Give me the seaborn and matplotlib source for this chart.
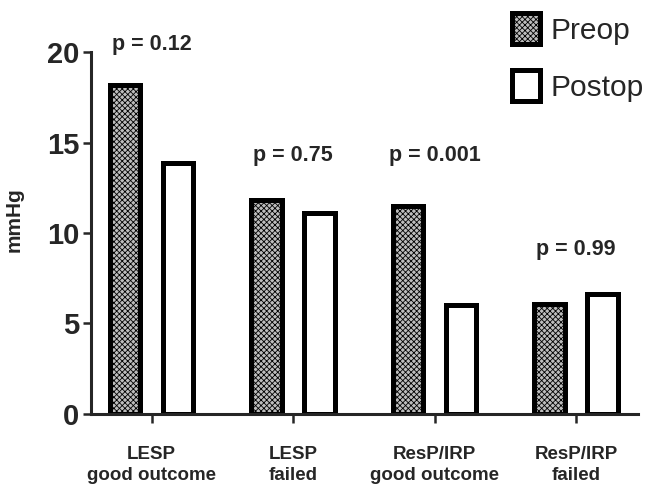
import numpy as np
import pandas as pd
import matplotlib
matplotlib.use("Agg")
import matplotlib.pyplot as plt
import seaborn as sns

# values
groups = ["LESP\ngood outcome", "LESP\nfailed", "ResP/IRP\ngood outcome", "ResP/IRP\nfailed"]
preop = [18.2, 11.8, 11.5, 6.1]
postop = [13.9, 11.1, 6.0, 6.6]
p_labels = ["p = 0.12", "p = 0.75", "p = 0.001", "p = 0.99"]
p_heights = [20.4, 14.3, 14.3, 9.1]
times = ["Preop", "Postop"]

df = pd.DataFrame({
    "group": groups * 2,
    "time": ["Preop"] * len(groups) + ["Postop"] * len(groups),
    "mmHg": preop + postop,
})

sns.set_style("ticks")
plt.rcParams["font.family"] = ["Liberation Sans", "DejaVu Sans"]
plt.rcParams["hatch.linewidth"] = 0.6

fig = plt.figure(figsize=(6.48, 4.88), dpi=100)
ax = fig.add_axes([0.140, 0.152, 0.845, 0.741])

sns.barplot(
    data=df, x="group", y="mmHg", hue="time", hue_order=times,
    palette={"Preop": "#bdbdbd", "Postop": "white"},
    width=0.75, gap=0.43, edgecolor="black", linewidth=3.6,
    legend=False, ax=ax,
)
for bar in ax.containers[0]:
    bar.set_hatch("xxxxxx")

ax.set_ylim(0, 20)
ax.set_xlim(-0.43, 3.44)
ax.set_yticks([0, 5, 10, 15, 20])
ax.set_xlabel("")
ax.set_ylabel("mmHg", fontsize=15, fontweight="bold")
ax.yaxis.set_label_coords(-0.122, 0.536)
sns.despine(ax=ax)
for side in ["left", "bottom"]:
    ax.spines[side].set_linewidth(2.2)
ax.tick_params(axis="y", length=6, width=1.8, pad=2, labelsize=21)
ax.tick_params(axis="x", length=6.5, width=1.8, pad=17, labelsize=13.5)
for lab in ax.get_yticklabels():
    lab.set_fontweight("bold")
for lab in ax.get_xticklabels():
    lab.set_fontweight("bold")
    lab.set_linespacing(1.3)

for i, (txt, h) in enumerate(zip(p_labels, p_heights)):
    ax.text(i, h, txt, ha="center", va="center", fontsize=15.5,
            fontweight="bold", clip_on=False)

fig.legend(
    handles=list(ax.containers), labels=times,
    loc="upper left", bbox_to_anchor=(0.79, 0.974), frameon=False,
    fontsize=21.5, handlelength=0.95, handleheight=1.25, handletextpad=0.35,
    labelspacing=0.85, borderpad=0, borderaxespad=0,
)

plt.savefig("out.png", dpi=100)
plt.close()
